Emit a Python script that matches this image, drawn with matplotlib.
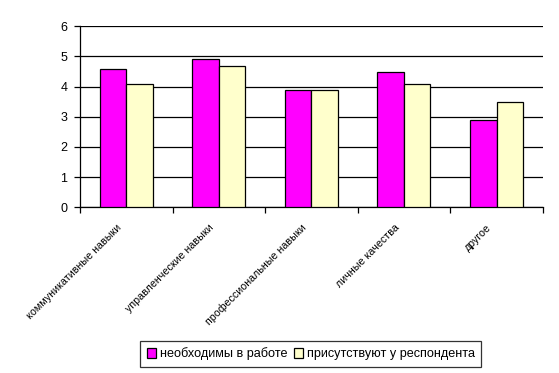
import matplotlib
matplotlib.use('Agg')
import matplotlib.pyplot as plt
import matplotlib.transforms as mtransforms
import numpy as np

# Chart data
categories = ['коммуникативные навыки', 'управленческие навыки',
              'профессиональные навыки', 'личные качества', 'другое']
needed = [4.6, 4.9, 3.9, 4.5, 2.9]
present = [4.1, 4.7, 3.9, 4.1, 3.5]
series_names = ['необходимы в работе', 'присутствуют у респондента']

plt.rcParams['font.family'] = ['Liberation Sans', 'DejaVu Sans']
plt.rcParams['font.size'] = 7.5

fig = plt.figure(figsize=(5.59, 3.73), dpi=100)
ax = fig.add_axes([0.143, 0.4442, 0.828, 0.4853])

x = np.arange(len(categories))
w = 0.286
ax.bar(x - w / 2, needed, w, color='#FF00FF', edgecolor='black',
       linewidth=0.9, label=series_names[0], zorder=3)
ax.bar(x + w / 2, present, w, color='#FFFFCC', edgecolor='black',
       linewidth=0.9, label=series_names[1], zorder=3)

ax.set_xlim(-0.5, len(categories) - 0.5)
ax.set_ylim(0, 6)
ax.set_yticks(range(7))
ax.yaxis.grid(True, color='black', linewidth=0.9, zorder=0)

ax.spines['top'].set_visible(False)
ax.spines['right'].set_visible(False)
ax.spines['left'].set_linewidth(0.9)
ax.spines['bottom'].set_linewidth(0.9)

ax.set_xticks(x)
ax.set_xticklabels(categories, rotation=45, ha='right', va='top',
                   rotation_mode='anchor', fontsize=7.7)
ax.tick_params(axis='x', which='major', length=0, pad=11)
ax.set_xticks(np.arange(len(categories) + 1) - 0.5, minor=True)
ax.tick_params(axis='x', which='minor', length=4, width=0.9, direction='out')
ax.tick_params(axis='y', length=4, width=0.9, pad=5, labelsize=9)

# nudge the slanted labels a little to the left
shift = mtransforms.ScaledTranslation(-10 / 100, 0, fig.dpi_scale_trans)
for lbl in ax.get_xticklabels():
    lbl.set_transform(lbl.get_transform() + shift)

leg = fig.legend(loc='center', bbox_to_anchor=(0.556, 0.051), ncol=2,
                 frameon=True, fancybox=False, shadow=False,
                 handlelength=0.75, handleheight=0.75, handletextpad=0.3,
                 columnspacing=0.5, borderpad=0.5, fontsize=9.1)
leg.get_frame().set_edgecolor('black')
leg.get_frame().set_linewidth(0.9)

fig.savefig('out.png', dpi=100)
